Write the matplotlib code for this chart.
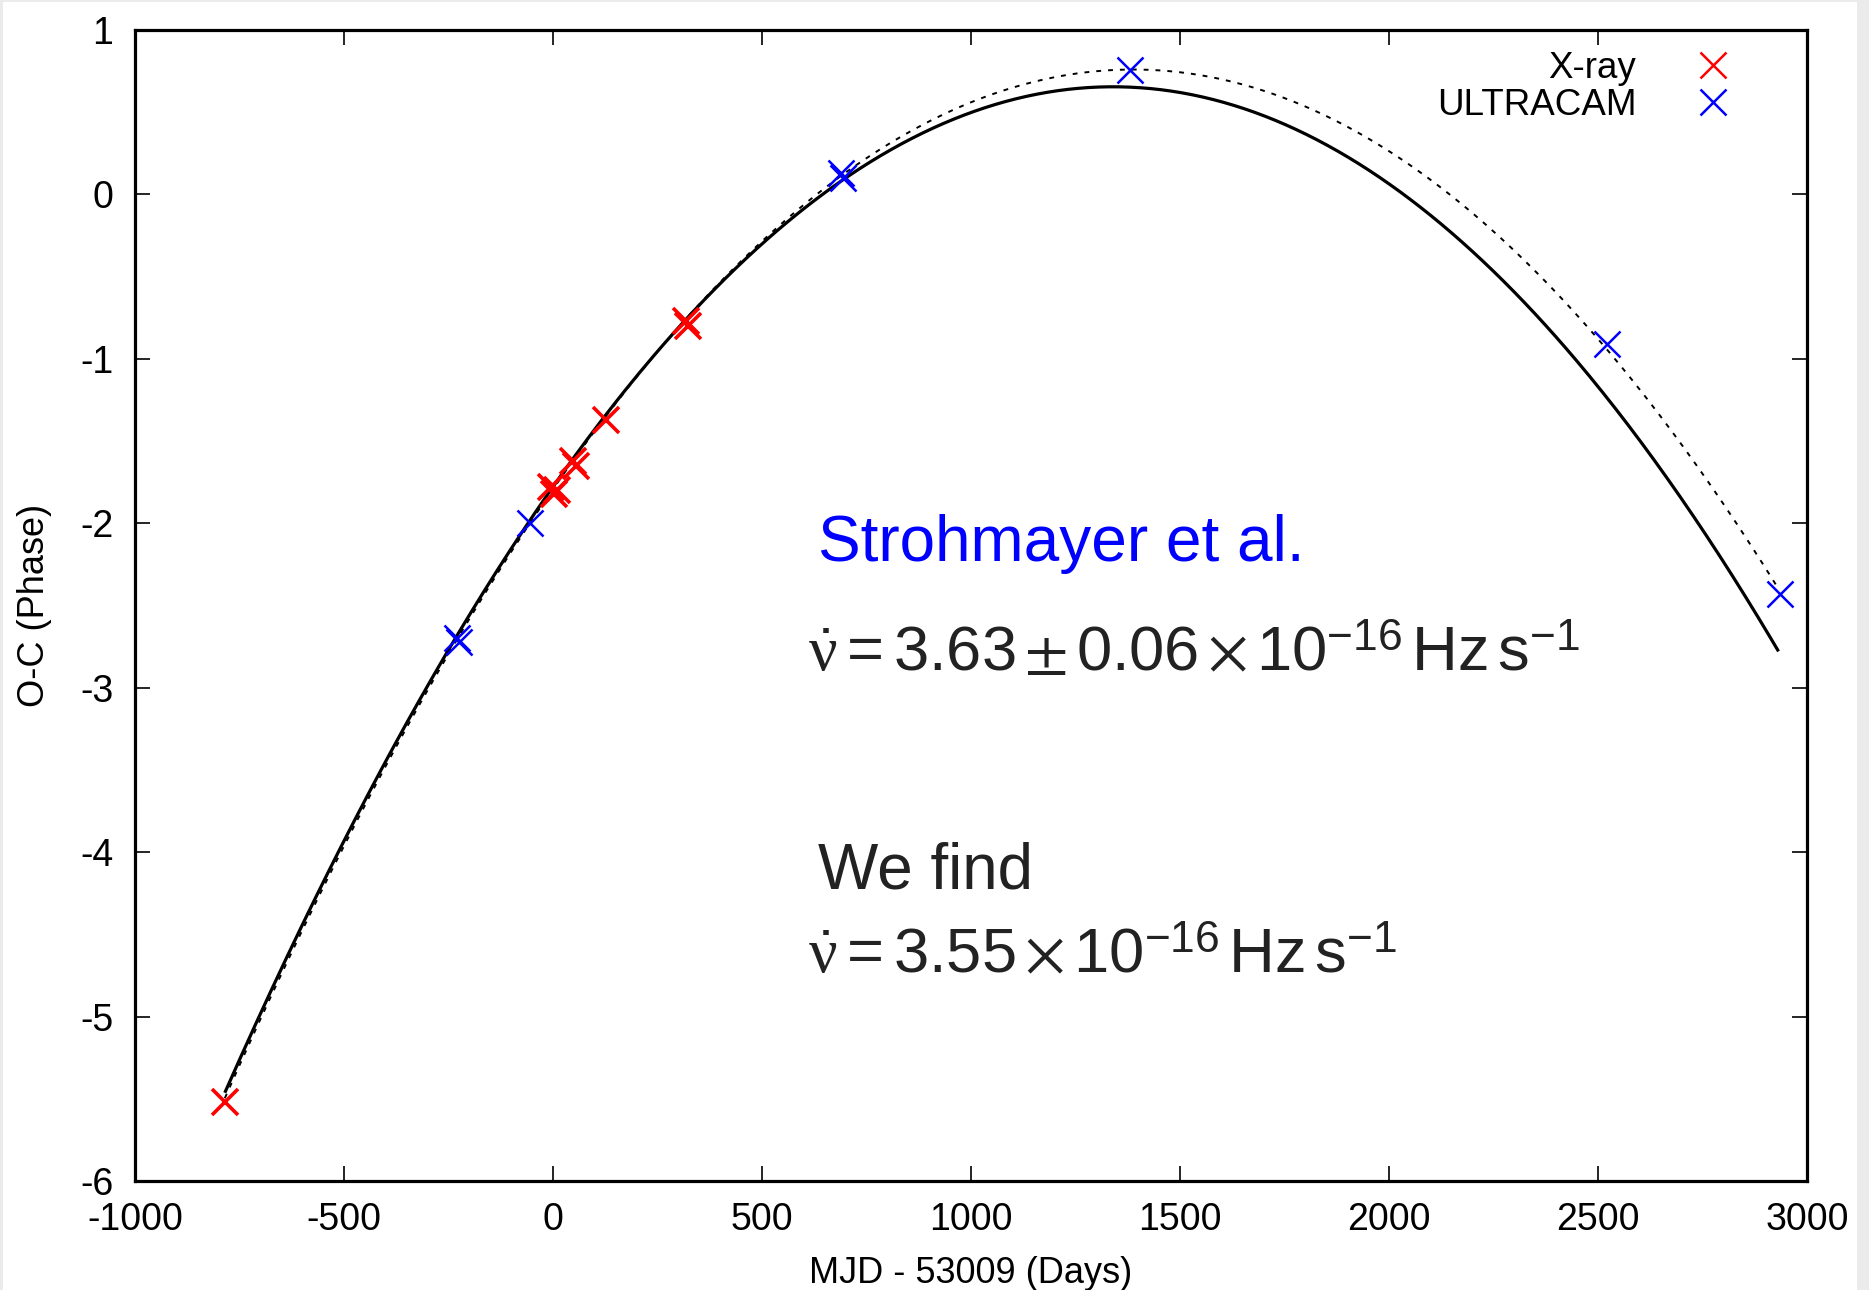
import numpy as np
import matplotlib
matplotlib.use("Agg")
import matplotlib.pyplot as plt
from matplotlib.patches import Rectangle

plt.rcParams['font.family'] = ['Liberation Sans', 'DejaVu Sans']
plt.rcParams['axes.unicode_minus'] = False
plt.rcParams['mathtext.fontset'] = 'custom'
plt.rcParams['mathtext.rm'] = 'Liberation Sans'
plt.rcParams['mathtext.it'] = 'Liberation Serif'
plt.rcParams['mathtext.sf'] = 'STIXGeneral'

# X-ray timing residuals (days since MJD 53009, phase)
xray_t = [-785, -5, 2, 10, 48, 55, 127, 318, 323]
xray_phase = [-5.52, -1.78, -1.82, -1.80, -1.62, -1.65, -1.37, -0.77, -0.80]

# ULTRACAM timing residuals
ucam_t = [-229, -225, -55, 688, 693, 1380, 2521, 2935]
ucam_phase = [-2.70, -2.72, -2.00, 0.13, 0.10, 0.757, -0.91, -2.43]

# quadratic ephemerides: nudot (Hz/s), epoch of peak (days), phase at peak
nudot_strohmayer = 3.63e-16
peak_t_strohmayer = 1340.0
peak_phase_strohmayer = 0.655
nudot_ours = 3.55e-16
peak_t_ours = 1388.0
peak_phase_ours = 0.76
fit_t_start, fit_t_end = -785.0, 2932.0

xticks = [-1000, -500, 0, 500, 1000, 1500, 2000, 2500, 3000]
xtick_labels = ['-1000', '-500', '0', '500', '1000', '1500', '2000', '2500', '3000']
yticks = [-6, -5, -4, -3, -2, -1, 0, 1]
ytick_labels = ['-6', '-5', '-4', '-3', '-2', '-1', '0', '1']


def oc_curve(t, nudot, t0, phi0):
    dt = (t - t0) * 86400.0
    return phi0 - 0.5 * nudot * dt ** 2


fig = plt.figure(figsize=(18.69, 12.90), dpi=100)
ax = fig.add_axes([0.0722, 0.0845, 0.8946, 0.8922])

t = np.linspace(fit_t_start, fit_t_end, 600)
ax.plot(t, oc_curve(t, nudot_strohmayer, peak_t_strohmayer, peak_phase_strohmayer),
        color='black', lw=2.3, solid_capstyle='butt')
ax.plot(t, oc_curve(t, nudot_ours, peak_t_ours, peak_phase_ours),
        color='black', lw=1.4, linestyle=(0, (2.5, 3.6)))

ax.plot(xray_t, xray_phase, 'x', color='red', ms=19, mew=2.6, ls='none', label='X-ray')
ax.plot(ucam_t, ucam_phase, 'x', color='blue', ms=19, mew=1.8, ls='none', label='ULTRACAM')

ax.set_xlim(-1000, 3000)
ax.set_ylim(-6, 1)
ax.set_xticks(xticks)
ax.set_xticklabels(xtick_labels)
ax.set_yticks(yticks)
ax.set_yticklabels(ytick_labels)
ax.tick_params(direction='in', length=11, width=1.2, top=True, right=True, labelsize=27)
ax.tick_params(axis='x', pad=15)
ax.tick_params(axis='y', pad=15.5)
for s in ax.spines.values():
    s.set_linewidth(2.3)

ax.set_xlabel('MJD - 53009 (Days)', fontsize=26, labelpad=13)
ax.set_ylabel('O-C (Phase)', fontsize=26, labelpad=20)

leg = ax.legend(loc='upper right', bbox_to_anchor=(0.956, 0.982), markerfirst=False,
                frameon=False, fontsize=26.5, handlelength=1.1, handletextpad=1.54,
                labelspacing=0.07, borderaxespad=0, borderpad=0, numpoints=1)
for h in leg.legend_handles:
    h.set_markeredgewidth(1.8)

ink = '#222222'
ax.text(633, -2.227, 'Strohmayer et al.', color='blue', fontsize=46, va='baseline')
ax.text(610, -2.90,
        r'$\dot{\nu} = 3.63\,\mathsf{\pm}\,0.06\,\mathsf{\times}\,10^{-16}\,\mathrm{Hz}\,\mathrm{s}^{-1}$',
        color=ink, fontsize=45.5, va='baseline')
ax.text(633, -4.22, 'We find', color=ink, fontsize=46, va='baseline')
ax.text(610, -4.73,
        r'$\dot{\nu} = 3.55\,\mathsf{\times}\,10^{-16}\,\mathrm{Hz}\,\mathrm{s}^{-1}$',
        color=ink, fontsize=45.5, va='baseline')

# light grey margin strips around the canvas
W, H = 1869.0, 1290.0
for x0, y0, w, h in [(0, 0, 3, H), (0, H - 2, W, 2), (1857, 0, W - 1857, H)]:
    fig.patches.append(Rectangle((x0 / W, y0 / H), w / W, h / H, transform=fig.transFigure,
                                 facecolor='#ebebeb', edgecolor='none', zorder=-1))

fig.savefig('out.png', dpi=100)
